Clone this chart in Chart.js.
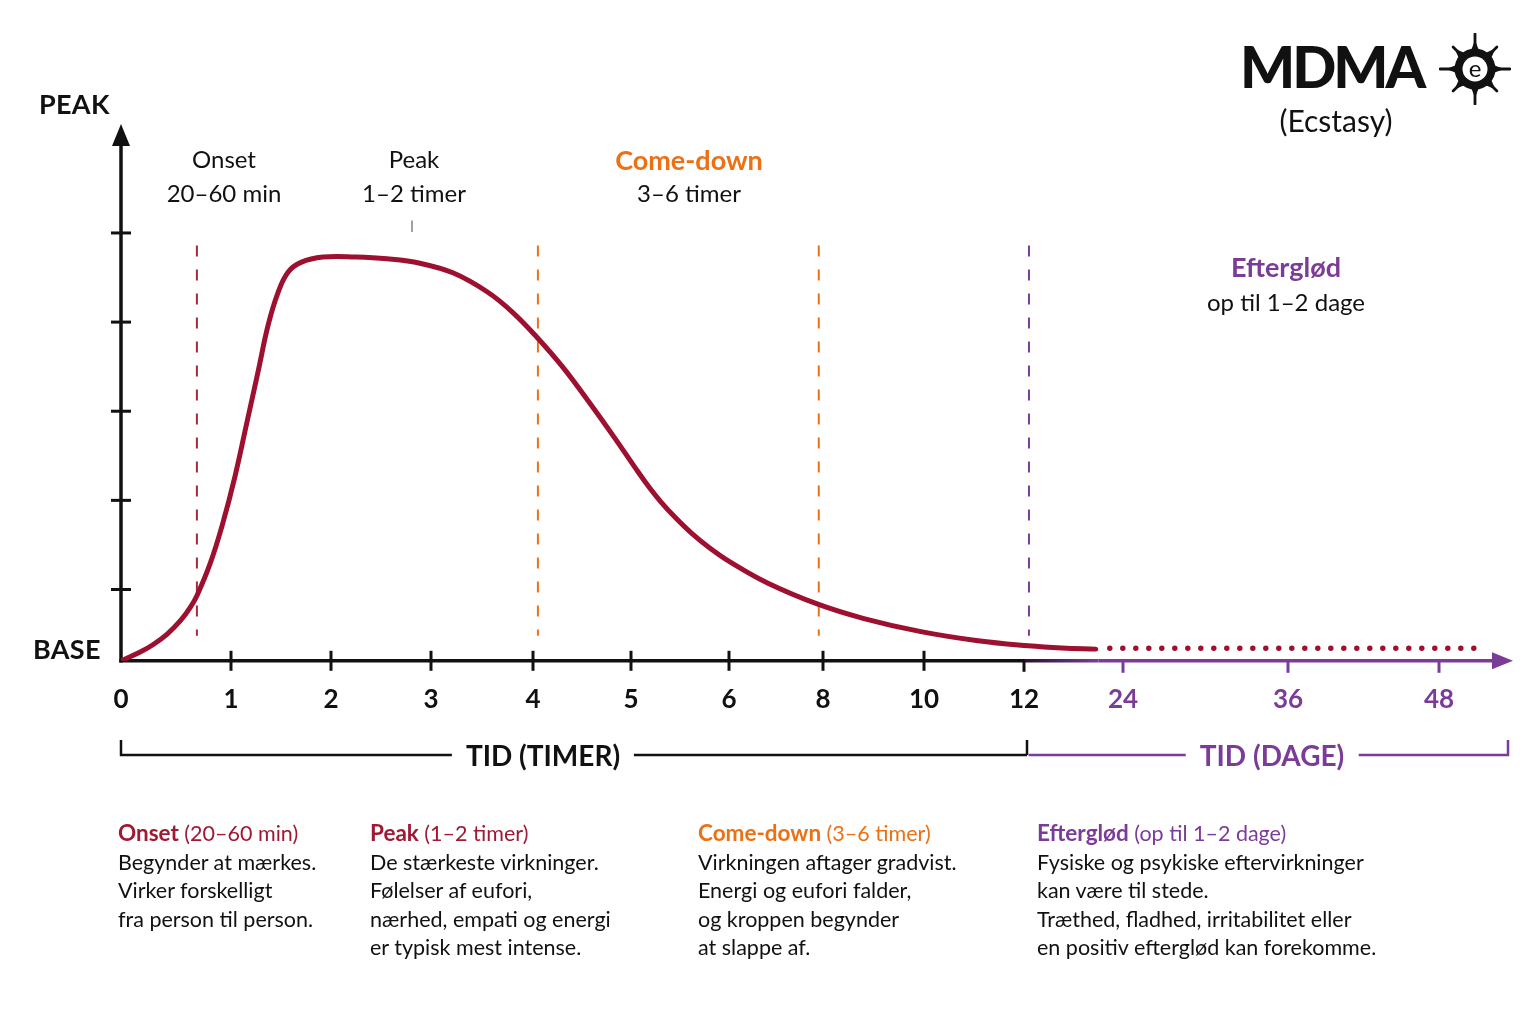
<!DOCTYPE html>
<html><head><meta charset="utf-8">
<script src="https://cdn.jsdelivr.net/npm/chart.js@4.4.1/dist/chart.umd.min.js"></script>
<style>
html,body{margin:0;padding:0;background:#fff;}
#wrap{position:relative;width:1536px;height:1024px;overflow:hidden;font-family:Lato,'Noto Sans',sans-serif;color:#111;}
#cbox{position:absolute;left:0;top:0;width:1536px;height:1024px;}
.t{position:absolute;white-space:nowrap;line-height:1;}
.c{transform:translate(-50%,-50%);text-align:center;}
.lv{transform:translate(0,-50%);}
.ax{font-weight:700;font-size:27px;letter-spacing:0.3px;}
.lab{font-size:24px;}
.labb{font-size:27px;font-weight:700;}
.blk{position:absolute;top:819px;font-size:21.5px;line-height:28.5px;white-space:nowrap;}
.blk b{font-size:22.5px;}
.br{background:#fff;padding:0 14px;font-weight:700;font-size:28px;}
</style></head><body>
<div id="wrap">
<div id="cbox"><canvas id="c"></canvas></div>

<div class="t lv" style="left:1240px;top:66px;font-weight:900;font-size:58px;letter-spacing:-3px">MDMA</div>
<svg id="logo" style="position:absolute;left:1439px;top:33px" width="72" height="72" viewBox="0 0 72 72"></svg>
<div class="t c" style="left:1336px;top:120px;font-size:30px">(Ecstasy)</div>

<div class="t lv ax" style="left:39px;top:103px">PEAK</div>
<div class="t lv ax" style="left:33px;top:648px">BASE</div>

<div class="t c lab" style="left:224px;top:159px">Onset</div>
<div class="t c lab" style="left:224px;top:193px">20–60 min</div>
<div class="t c lab" style="left:414px;top:159px">Peak</div>
<div class="t c lab" style="left:414px;top:193px">1–2 timer</div>
<div class="t c labb" style="left:689px;top:159px;color:#ec7014">Come-down</div>
<div class="t c lab" style="left:689px;top:193px">3–6 timer</div>
<div class="t c labb" style="left:1286px;top:266px;color:#7b3c98">Efterglød</div>
<div class="t c lab" style="left:1286px;top:302px">op til 1–2 dage</div>

<div class="t c br" style="left:543px;top:755px">TID (TIMER)</div>
<div class="t c br" style="left:1272px;top:755px;color:#7b3c98">TID (DAGE)</div>

<div class="blk" style="left:118px"><span style="color:#9e1a34"><b>Onset</b> (20–60 min)</span><br>Begynder at mærkes.<br>Virker forskelligt<br>fra person til person.</div>
<div class="blk" style="left:370px"><span style="color:#9e1a34"><b>Peak</b> (1–2 timer)</span><br>De stærkeste virkninger.<br>Følelser af eufori,<br>nærhed, empati og energi<br>er typisk mest intense.</div>
<div class="blk" style="left:698px"><span style="color:#ec7014"><b>Come-down</b> (3–6 timer)</span><br>Virkningen aftager gradvist.<br>Energi og eufori falder,<br>og kroppen begynder<br>at slappe af.</div>
<div class="blk" style="left:1037px"><span style="color:#7b3c98"><b>Efterglød</b> (op til 1–2 dage)</span><br>Fysiske og psykiske eftervirkninger<br>kan være til stede.<br>Træthed, fladhed, irritabilitet eller<br>en positiv efterglød kan forekomme.</div>
</div>

<script>
// ---------- data ----------
const tickHours = [0, 1, 2, 3, 4, 5, 6, 8, 10, 12, 24, 36, 48];
const tickLabels = ['0','1','2','3','4','5','6','8','10','12','24','36','48'];
const yTickLevels = [0.8, 1.8, 2.8, 3.8, 4.8];

const curveHours = [0, 0.17, 0.29, 0.42, 0.54, 0.63, 0.69, 0.81, 0.92, 1.04, 1.16, 1.27, 1.37, 1.47, 1.57, 1.70, 1.92, 2.25, 2.56, 2.89, 3.22, 3.55, 3.80, 4.04, 4.30, 4.56, 4.84, 5.04, 5.17, 5.30, 5.45, 5.62, 5.81, 6.02, 6.83, 7.89, 8.81, 9.94, 11.08, 12.5, 16.6, 20.7];
const curveLevel = [0, 0.095, 0.18, 0.30, 0.45, 0.60, 0.73, 1.09, 1.52, 2.07, 2.68, 3.24, 3.76, 4.13, 4.36, 4.47, 4.53, 4.53, 4.51, 4.46, 4.35, 4.14, 3.91, 3.63, 3.30, 2.92, 2.49, 2.17, 1.97, 1.79, 1.61, 1.43, 1.26, 1.11, 0.87, 0.635, 0.474, 0.327, 0.225, 0.169, 0.144, 0.131];

const afterglowHours = [22.4, 51.1];
const afterglowLevel = [0.14, 0.14];

const phaseNames = ['Onset', 'Peak-slut', 'Come-down', 'Efterglød'];
const phaseHours = [0.69, 4.05, 7.91, 12.6];
const guideRange = [4.66, 0.28];
const peakMarkHour = 2.81;
const peakMarkRange = [4.94, 4.81];

// ---------- colours ----------
const CRIMSON = '#9e1030';
const ORANGE = '#ec7014';
const PURPLE = '#7b3c98';
const phaseColors = ['#a8283c', ORANGE, ORANGE, PURPLE];

// ---------- custom broken time scale ----------
const Linear = Chart.LinearScale || Chart.registry.getScale('linear');
class SegmentScale extends Linear {
  _toDec(v) {
    const h = this.options.stopHours, s = this.options.stopSlots, tot = s[s.length - 1];
    if (v <= h[0]) return s[0] / tot;
    for (let i = 1; i < h.length; i++) {
      if (v <= h[i]) return (s[i - 1] + (v - h[i - 1]) / (h[i] - h[i - 1]) * (s[i] - s[i - 1])) / tot;
    }
    return 1;
  }
  getPixelForValue(value) {
    if (value === null || value === undefined || isNaN(value)) return NaN;
    return this.getPixelForDecimal(this._toDec(value));
  }
  getValueForPixel(pixel) {
    const d = this.getDecimalForPixel(pixel);
    const h = this.options.stopHours, s = this.options.stopSlots, tot = s[s.length - 1];
    const u = d * tot;
    for (let i = 1; i < s.length; i++) {
      if (u <= s[i]) return h[i - 1] + (u - s[i - 1]) / (s[i] - s[i - 1]) * (h[i] - h[i - 1]);
    }
    return h[h.length - 1];
  }
}
SegmentScale.id = 'segment';
SegmentScale.defaults = Object.assign({}, Linear.defaults);
Chart.register(SegmentScale);

// ---------- logo ----------
(function () {
  const svg = document.getElementById('logo');
  const cx = 36, cy = 36;
  let out = '';
  for (let i = 0; i < 8; i++) {
    const a = i * Math.PI / 4 - Math.PI / 2;
    const tip = (i % 2 === 0) ? 35 : 31;
    const p = (r, da) => [(cx + r * Math.cos(a + da)).toFixed(1), (cy + r * Math.sin(a + da)).toFixed(1)].join(',');
    out += `<polygon points="${p(16, -0.34)} ${p(29, 0)} ${p(16, 0.34)}" fill="#111"/>`;
    out += `<line x1="${cx}" y1="${cy}" x2="${(cx + tip * Math.cos(a)).toFixed(1)}" y2="${(cy + tip * Math.sin(a)).toFixed(1)}" stroke="#111" stroke-width="2.8" stroke-linecap="round"/>`;
  }
  out += `<circle cx="${cx}" cy="${cy}" r="20.5" fill="#111"/>`;
  out += `<circle cx="${cx}" cy="${cy}" r="12.5" fill="#fff"/>`;
  out += `<text x="${cx}" y="${cy + 7.5}" text-anchor="middle" font-family="Lato, sans-serif" font-size="24" fill="#111">e</text>`;
  svg.innerHTML = out;
})();

// ---------- axes plugin ----------
const axesPlugin = {
  id: 'drawnAxes',
  beforeDatasetsDraw(chart) {
    const { ctx, chartArea: a, scales: { x, y } } = chart;
    const x0 = x.getPixelForValue(0), y0 = y.getPixelForValue(0);
    const x12 = x.getPixelForValue(12);
    const seg = (x1, y1, x2, y2) => { ctx.beginPath(); ctx.moveTo(x1, y1); ctx.lineTo(x2, y2); ctx.stroke(); };
    ctx.save();
    ctx.lineCap = 'butt';
    // y axis
    ctx.strokeStyle = '#111'; ctx.fillStyle = '#111'; ctx.lineWidth = 3.5;
    seg(x0, y0 + 1.7, x0, a.top + 16);
    ctx.beginPath(); ctx.moveTo(x0, a.top - 2); ctx.lineTo(x0 - 9, a.top + 20); ctx.lineTo(x0 + 9, a.top + 20); ctx.closePath(); ctx.fill();
    ctx.lineWidth = 3;
    yTickLevels.forEach(v => { const py = y.getPixelForValue(v); seg(x0 - 10, py, x0 + 10, py); });
    // x axis
    ctx.lineWidth = 3.5;
    ctx.strokeStyle = '#111';
    seg(x0 - 1.7, y0, x12, y0);
    const xg = x.getPixelForValue(21);
    const g = ctx.createLinearGradient(x12, 0, xg, 0);
    g.addColorStop(0, '#2a1030'); g.addColorStop(1, PURPLE);
    ctx.strokeStyle = g;
    seg(x12, y0, xg, y0);
    ctx.strokeStyle = PURPLE;
    seg(xg, y0, a.right - 16, y0);
    ctx.fillStyle = PURPLE;
    ctx.beginPath(); ctx.moveTo(a.right + 1, y0); ctx.lineTo(a.right - 20, y0 - 8.5); ctx.lineTo(a.right - 20, y0 + 8.5); ctx.closePath(); ctx.fill();
    // x ticks
    ctx.lineWidth = 3;
    tickHours.forEach(h => {
      if (h === 0) return;
      const px = x.getPixelForValue(h);
      if (h < 12) { ctx.strokeStyle = '#111'; seg(px, y0 - 10, px, y0 + 10); }
      else if (h === 12) { ctx.strokeStyle = '#111'; seg(px, y0, px, y0 + 11); }
      else { ctx.strokeStyle = PURPLE; seg(px, y0, px, y0 + 12); }
    });
    // brackets
    const by = 755, bt = 740;
    const xr = a.right - 4;
    ctx.lineWidth = 2.5; ctx.strokeStyle = '#111';
    ctx.beginPath(); ctx.moveTo(x0, bt); ctx.lineTo(x0, by); ctx.lineTo(x12 + 3, by); ctx.stroke();
    ctx.beginPath(); ctx.moveTo(x12 + 3, bt); ctx.lineTo(x12 + 3, by); ctx.stroke();
    ctx.strokeStyle = PURPLE;
    ctx.beginPath(); ctx.moveTo(x12 + 4.5, by); ctx.lineTo(xr, by); ctx.lineTo(xr, bt); ctx.stroke();
    ctx.restore();
  }
};

// ---------- datasets ----------
const datasets = [];
datasets.push({
  label: 'MDMA-effekt',
  data: curveHours.map((h, i) => ({ x: h, y: curveLevel[i] })),
  borderColor: CRIMSON, borderWidth: 5, pointRadius: 0,
  tension: 0.4, borderCapStyle: 'round', borderJoinStyle: 'round', fill: false, order: 1
});
datasets.push({
  label: 'Efterglød',
  data: afterglowHours.map((h, i) => ({ x: h, y: afterglowLevel[i] })),
  borderColor: CRIMSON, borderWidth: 5.5, pointRadius: 0,
  borderDash: [0, 13], borderCapStyle: 'round', fill: false, order: 2
});
phaseHours.forEach((h, i) => {
  datasets.push({
    label: phaseNames[i],
    data: [{ x: h, y: guideRange[0] }, { x: h, y: guideRange[1] }],
    borderColor: phaseColors[i], borderWidth: 2, pointRadius: 0,
    borderDash: [11, 13], fill: false, order: 5
  });
});
datasets.push({
  label: 'Peak-markør',
  data: [{ x: peakMarkHour, y: peakMarkRange[0] }, { x: peakMarkHour, y: peakMarkRange[1] }],
  borderColor: '#8a8a8a', borderWidth: 1.6, pointRadius: 0, fill: false, order: 5
});

new Chart(document.getElementById('c'), {
  type: 'line',
  data: { datasets },
  plugins: [axesPlugin],
  options: {
    responsive: true, maintainAspectRatio: false, animation: false,
    events: [],
    layout: { padding: { left: 121, right: 24, top: 126, bottom: 286 } },
    plugins: { legend: { display: false }, tooltip: { enabled: false }, title: { display: false } },
    scales: {
      x: {
        type: 'segment', min: 0, max: 54,
        stopHours: [0, 1, 2, 3, 4, 5, 6, 8, 10, 12, 24, 36, 48, 54],
        stopSlots: [0, 1.1, 2.1, 3.1, 4.12, 5.1, 6.08, 7.02, 8.03, 9.03, 10.02, 11.67, 13.18, 13.91],
        grid: { display: false, drawTicks: false },
        border: { display: false },
        afterBuildTicks: s => { s.ticks = tickHours.map(v => ({ value: v })); },
        ticks: {
          autoSkip: false, maxRotation: 0, padding: 23,
          font: { family: 'Lato', weight: 'bold', size: 26 },
          color: c => (c.tick && c.tick.value > 12) ? PURPLE : '#111',
          callback: (v) => { const i = tickHours.indexOf(v); return i >= 0 ? tickLabels[i] : ''; }
        }
      },
      y: { display: false, min: 0, max: 6 }
    }
  }
});
</script>
</body></html>
